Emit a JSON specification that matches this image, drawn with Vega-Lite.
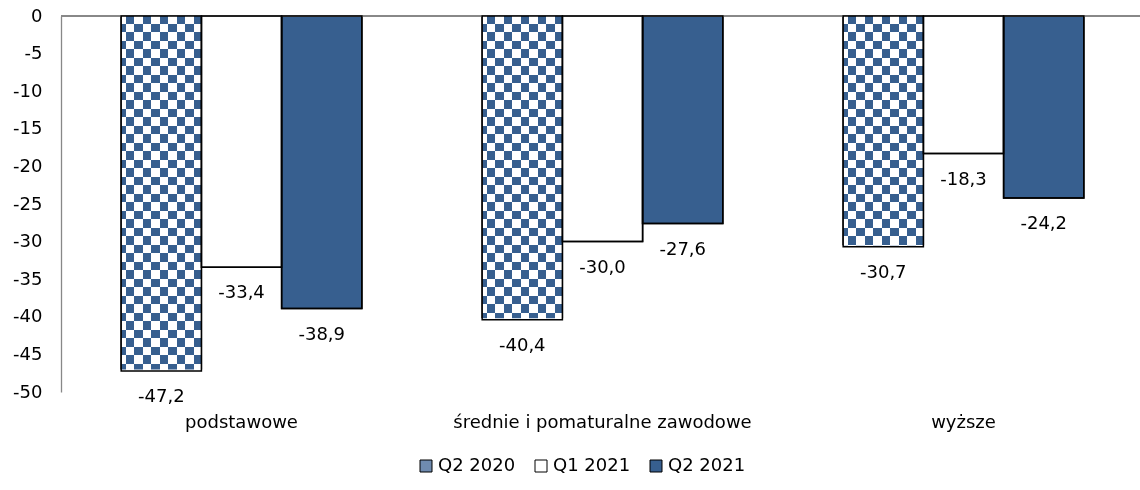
{
  "$schema": "https://vega.github.io/schema/vega-lite/v6.json",
  "autosize": {"type": "none"},
  "padding": {"left": 61, "top": 16, "right": 0, "bottom": 98},
  "width": 1083,
  "height": 376,
  "background": "white",
  "config": {
    "view": {"stroke": null},
    "font": "DejaVu Sans",
    "axis": {"labelOverlap": false},
    "axisY": {"labelOverlap": false, "tickCount": 12},
    "locale": {"number": {"decimal": ",", "thousands": " ", "grouping": [3], "currency": ["", " zł"], "minus": "-"}}
  },
  "data": {
    "values": [
      {"cat": "podstawowe", "series": "Q2 2020", "value": -47.2},
      {"cat": "podstawowe", "series": "Q1 2021", "value": -33.4},
      {"cat": "podstawowe", "series": "Q2 2021", "value": -38.9},
      {"cat": "średnie i pomaturalne zawodowe", "series": "Q2 2020", "value": -40.4},
      {"cat": "średnie i pomaturalne zawodowe", "series": "Q1 2021", "value": -30.0},
      {"cat": "średnie i pomaturalne zawodowe", "series": "Q2 2021", "value": -27.6},
      {"cat": "wyższe", "series": "Q2 2020", "value": -30.7},
      {"cat": "wyższe", "series": "Q1 2021", "value": -18.3},
      {"cat": "wyższe", "series": "Q2 2021", "value": -24.2}
    ]
  },
  "encoding": {
    "x": {
      "field": "cat", "type": "nominal",
      "sort": ["podstawowe", "średnie i pomaturalne zawodowe", "wyższe"],
      "scale": {"paddingInner": 0.3333, "paddingOuter": 0.1667},
      "axis": {"title": null, "orient": "bottom", "domain": false, "ticks": false, "labelPadding": 21, "labelLimit": 0, "labelFontSize": 18, "labelFont": "DejaVu Sans", "labelColor": "black", "labelAngle": 0}
    },
    "xOffset": {
      "field": "series", "type": "nominal",
      "sort": ["Q2 2020", "Q1 2021", "Q2 2021"],
      "scale": {"domain": ["Q2 2020", "Q1 2021", "Q2 2021"], "paddingInner": 0, "paddingOuter": 0}
    }
  },
  "layer": [
    {
      "mark": {"type": "bar", "stroke": "black", "strokeWidth": 1.5},
      "encoding": {
        "y": {
          "field": "value", "type": "quantitative",
          "scale": {"domain": [-50, 0], "nice": false, "zero": false},
          "axis": {"title": null, "domain": true, "domainColor": "#888888", "domainWidth": 1.3, "ticks": false, "grid": false, "tickCount": 12, "values": [0, -5, -10, -15, -20, -25, -30, -35, -40, -45, -50], "labelOverlap": false, "labelFlush": false, "labelPadding": 19, "labelFontSize": 18, "labelFont": "DejaVu Sans", "labelColor": "black"}
        },
        "color": {
          "field": "series", "type": "nominal",
          "sort": ["Q2 2020", "Q1 2021", "Q2 2021"],
          "scale": {"domain": ["Q2 2020", "Q1 2021", "Q2 2021"], "range": ["#6f8bb0", "#ffffff", "#375F8F"]},
          "legend": {
            "orient": "none", "legendX": 356, "legendY": 441, "direction": "horizontal",
            "title": null, "symbolType": "square", "symbolSize": 144,
            "symbolStrokeColor": "black", "symbolStrokeWidth": 1,
            "labelFontSize": 18, "labelFont": "DejaVu Sans", "labelColor": "black",
            "labelOffset": 3, "columnPadding": 16
          }
        }
      }
    },
    {
      "mark": {"type": "rule", "color": "#888888", "strokeWidth": 1.3},
      "encoding": {"y": {"datum": 0, "type": "quantitative"}, "x": null, "xOffset": null}
    },
    {
      "transform": [{"filter": "datum.series === 'Q2 2020'"}],
      "mark": {
        "type": "bar",
        "fill": {"gradient": "linear", "x1": 0, "y1": 0, "x2": 1, "y2": 0, "stops": [
          {"offset": 0, "color": "#ffffff"}, {"offset": 0.055, "color": "#ffffff"},
          {"offset": 0.055, "color": "#000000"}, {"offset": 0.161, "color": "#000000"},
          {"offset": 0.161, "color": "#ffffff"}, {"offset": 0.2675, "color": "#ffffff"},
          {"offset": 0.2675, "color": "#000000"}, {"offset": 0.374, "color": "#000000"},
          {"offset": 0.374, "color": "#ffffff"}, {"offset": 0.48, "color": "#ffffff"},
          {"offset": 0.48, "color": "#000000"}, {"offset": 0.586, "color": "#000000"},
          {"offset": 0.586, "color": "#ffffff"}, {"offset": 0.6925, "color": "#ffffff"},
          {"offset": 0.6925, "color": "#000000"}, {"offset": 0.799, "color": "#000000"},
          {"offset": 0.799, "color": "#ffffff"}, {"offset": 0.905, "color": "#ffffff"},
          {"offset": 0.905, "color": "#000000"}, {"offset": 1, "color": "#000000"}
        ]}
      },
      "encoding": {"y": {"datum": 0, "type": "quantitative"}, "y2": {"datum": -50}}
    },
    {
      "transform": [{"filter": "datum.series === 'Q2 2020'"}],
      "mark": {
        "type": "bar", "blend": "difference",
        "fill": {"gradient": "linear", "x1": 0, "y1": 0, "x2": 0, "y2": 1, "stops": [
          {"offset": 0, "color": "#000000"},
          {"offset": 0.0202, "color": "#000000"}, {"offset": 0.0202, "color": "#ffffff"}, {"offset": 0.0428, "color": "#ffffff"}, {"offset": 0.0428, "color": "#000000"},
          {"offset": 0.0654, "color": "#000000"}, {"offset": 0.0654, "color": "#ffffff"}, {"offset": 0.0880, "color": "#ffffff"}, {"offset": 0.0880, "color": "#000000"},
          {"offset": 0.1106, "color": "#000000"}, {"offset": 0.1106, "color": "#ffffff"}, {"offset": 0.1332, "color": "#ffffff"}, {"offset": 0.1332, "color": "#000000"},
          {"offset": 0.1559, "color": "#000000"}, {"offset": 0.1559, "color": "#ffffff"}, {"offset": 0.1785, "color": "#ffffff"}, {"offset": 0.1785, "color": "#000000"},
          {"offset": 0.2011, "color": "#000000"}, {"offset": 0.2011, "color": "#ffffff"}, {"offset": 0.2237, "color": "#ffffff"}, {"offset": 0.2237, "color": "#000000"},
          {"offset": 0.2463, "color": "#000000"}, {"offset": 0.2463, "color": "#ffffff"}, {"offset": 0.2689, "color": "#ffffff"}, {"offset": 0.2689, "color": "#000000"},
          {"offset": 0.2915, "color": "#000000"}, {"offset": 0.2915, "color": "#ffffff"}, {"offset": 0.3141, "color": "#ffffff"}, {"offset": 0.3141, "color": "#000000"},
          {"offset": 0.3367, "color": "#000000"}, {"offset": 0.3367, "color": "#ffffff"}, {"offset": 0.3593, "color": "#ffffff"}, {"offset": 0.3593, "color": "#000000"},
          {"offset": 0.3819, "color": "#000000"}, {"offset": 0.3819, "color": "#ffffff"}, {"offset": 0.4045, "color": "#ffffff"}, {"offset": 0.4045, "color": "#000000"},
          {"offset": 0.4271, "color": "#000000"}, {"offset": 0.4271, "color": "#ffffff"}, {"offset": 0.4497, "color": "#ffffff"}, {"offset": 0.4497, "color": "#000000"},
          {"offset": 0.4723, "color": "#000000"}, {"offset": 0.4723, "color": "#ffffff"}, {"offset": 0.4949, "color": "#ffffff"}, {"offset": 0.4949, "color": "#000000"},
          {"offset": 0.5176, "color": "#000000"}, {"offset": 0.5176, "color": "#ffffff"}, {"offset": 0.5402, "color": "#ffffff"}, {"offset": 0.5402, "color": "#000000"},
          {"offset": 0.5628, "color": "#000000"}, {"offset": 0.5628, "color": "#ffffff"}, {"offset": 0.5854, "color": "#ffffff"}, {"offset": 0.5854, "color": "#000000"},
          {"offset": 0.6080, "color": "#000000"}, {"offset": 0.6080, "color": "#ffffff"}, {"offset": 0.6306, "color": "#ffffff"}, {"offset": 0.6306, "color": "#000000"},
          {"offset": 0.6532, "color": "#000000"}, {"offset": 0.6532, "color": "#ffffff"}, {"offset": 0.6758, "color": "#ffffff"}, {"offset": 0.6758, "color": "#000000"},
          {"offset": 0.6984, "color": "#000000"}, {"offset": 0.6984, "color": "#ffffff"}, {"offset": 0.7210, "color": "#ffffff"}, {"offset": 0.7210, "color": "#000000"},
          {"offset": 0.7436, "color": "#000000"}, {"offset": 0.7436, "color": "#ffffff"}, {"offset": 0.7662, "color": "#ffffff"}, {"offset": 0.7662, "color": "#000000"},
          {"offset": 0.7888, "color": "#000000"}, {"offset": 0.7888, "color": "#ffffff"}, {"offset": 0.8114, "color": "#ffffff"}, {"offset": 0.8114, "color": "#000000"},
          {"offset": 0.8340, "color": "#000000"}, {"offset": 0.8340, "color": "#ffffff"}, {"offset": 0.8567, "color": "#ffffff"}, {"offset": 0.8567, "color": "#000000"},
          {"offset": 0.8793, "color": "#000000"}, {"offset": 0.8793, "color": "#ffffff"}, {"offset": 0.9019, "color": "#ffffff"}, {"offset": 0.9019, "color": "#000000"},
          {"offset": 0.9245, "color": "#000000"}, {"offset": 0.9245, "color": "#ffffff"}, {"offset": 0.9471, "color": "#ffffff"}, {"offset": 0.9471, "color": "#000000"},
          {"offset": 0.9697, "color": "#000000"}, {"offset": 0.9697, "color": "#ffffff"}, {"offset": 0.9923, "color": "#ffffff"}, {"offset": 0.9923, "color": "#000000"},
          {"offset": 1, "color": "#000000"}
        ]}
      },
      "encoding": {"y": {"datum": 0, "type": "quantitative"}, "y2": {"datum": -50}}
    },
    {
      "transform": [{"filter": "datum.series === 'Q2 2020'"}],
      "mark": {"type": "bar", "blend": "screen", "fill": "#375F8F"},
      "encoding": {"y": {"datum": 0, "type": "quantitative"}, "y2": {"datum": -50}}
    },
    {
      "transform": [{"filter": "datum.series === 'Q2 2020'"}],
      "mark": {"type": "bar", "fill": "#ffffff", "stroke": "#ffffff", "strokeWidth": 3},
      "encoding": {"y": {"field": "value", "type": "quantitative"}, "y2": {"datum": -50}}
    },
    {
      "mark": {"type": "bar", "fillOpacity": 0, "stroke": "black", "strokeWidth": 1.5},
      "encoding": {"y": {"field": "value", "type": "quantitative"}}
    },
    {
      "mark": {"type": "text", "baseline": "middle", "dy": 26, "fontSize": 18, "font": "DejaVu Sans", "color": "black"},
      "encoding": {
        "y": {"field": "value", "type": "quantitative"},
        "text": {"field": "value", "type": "quantitative", "format": ".1f"}
      }
    }
  ]
}
